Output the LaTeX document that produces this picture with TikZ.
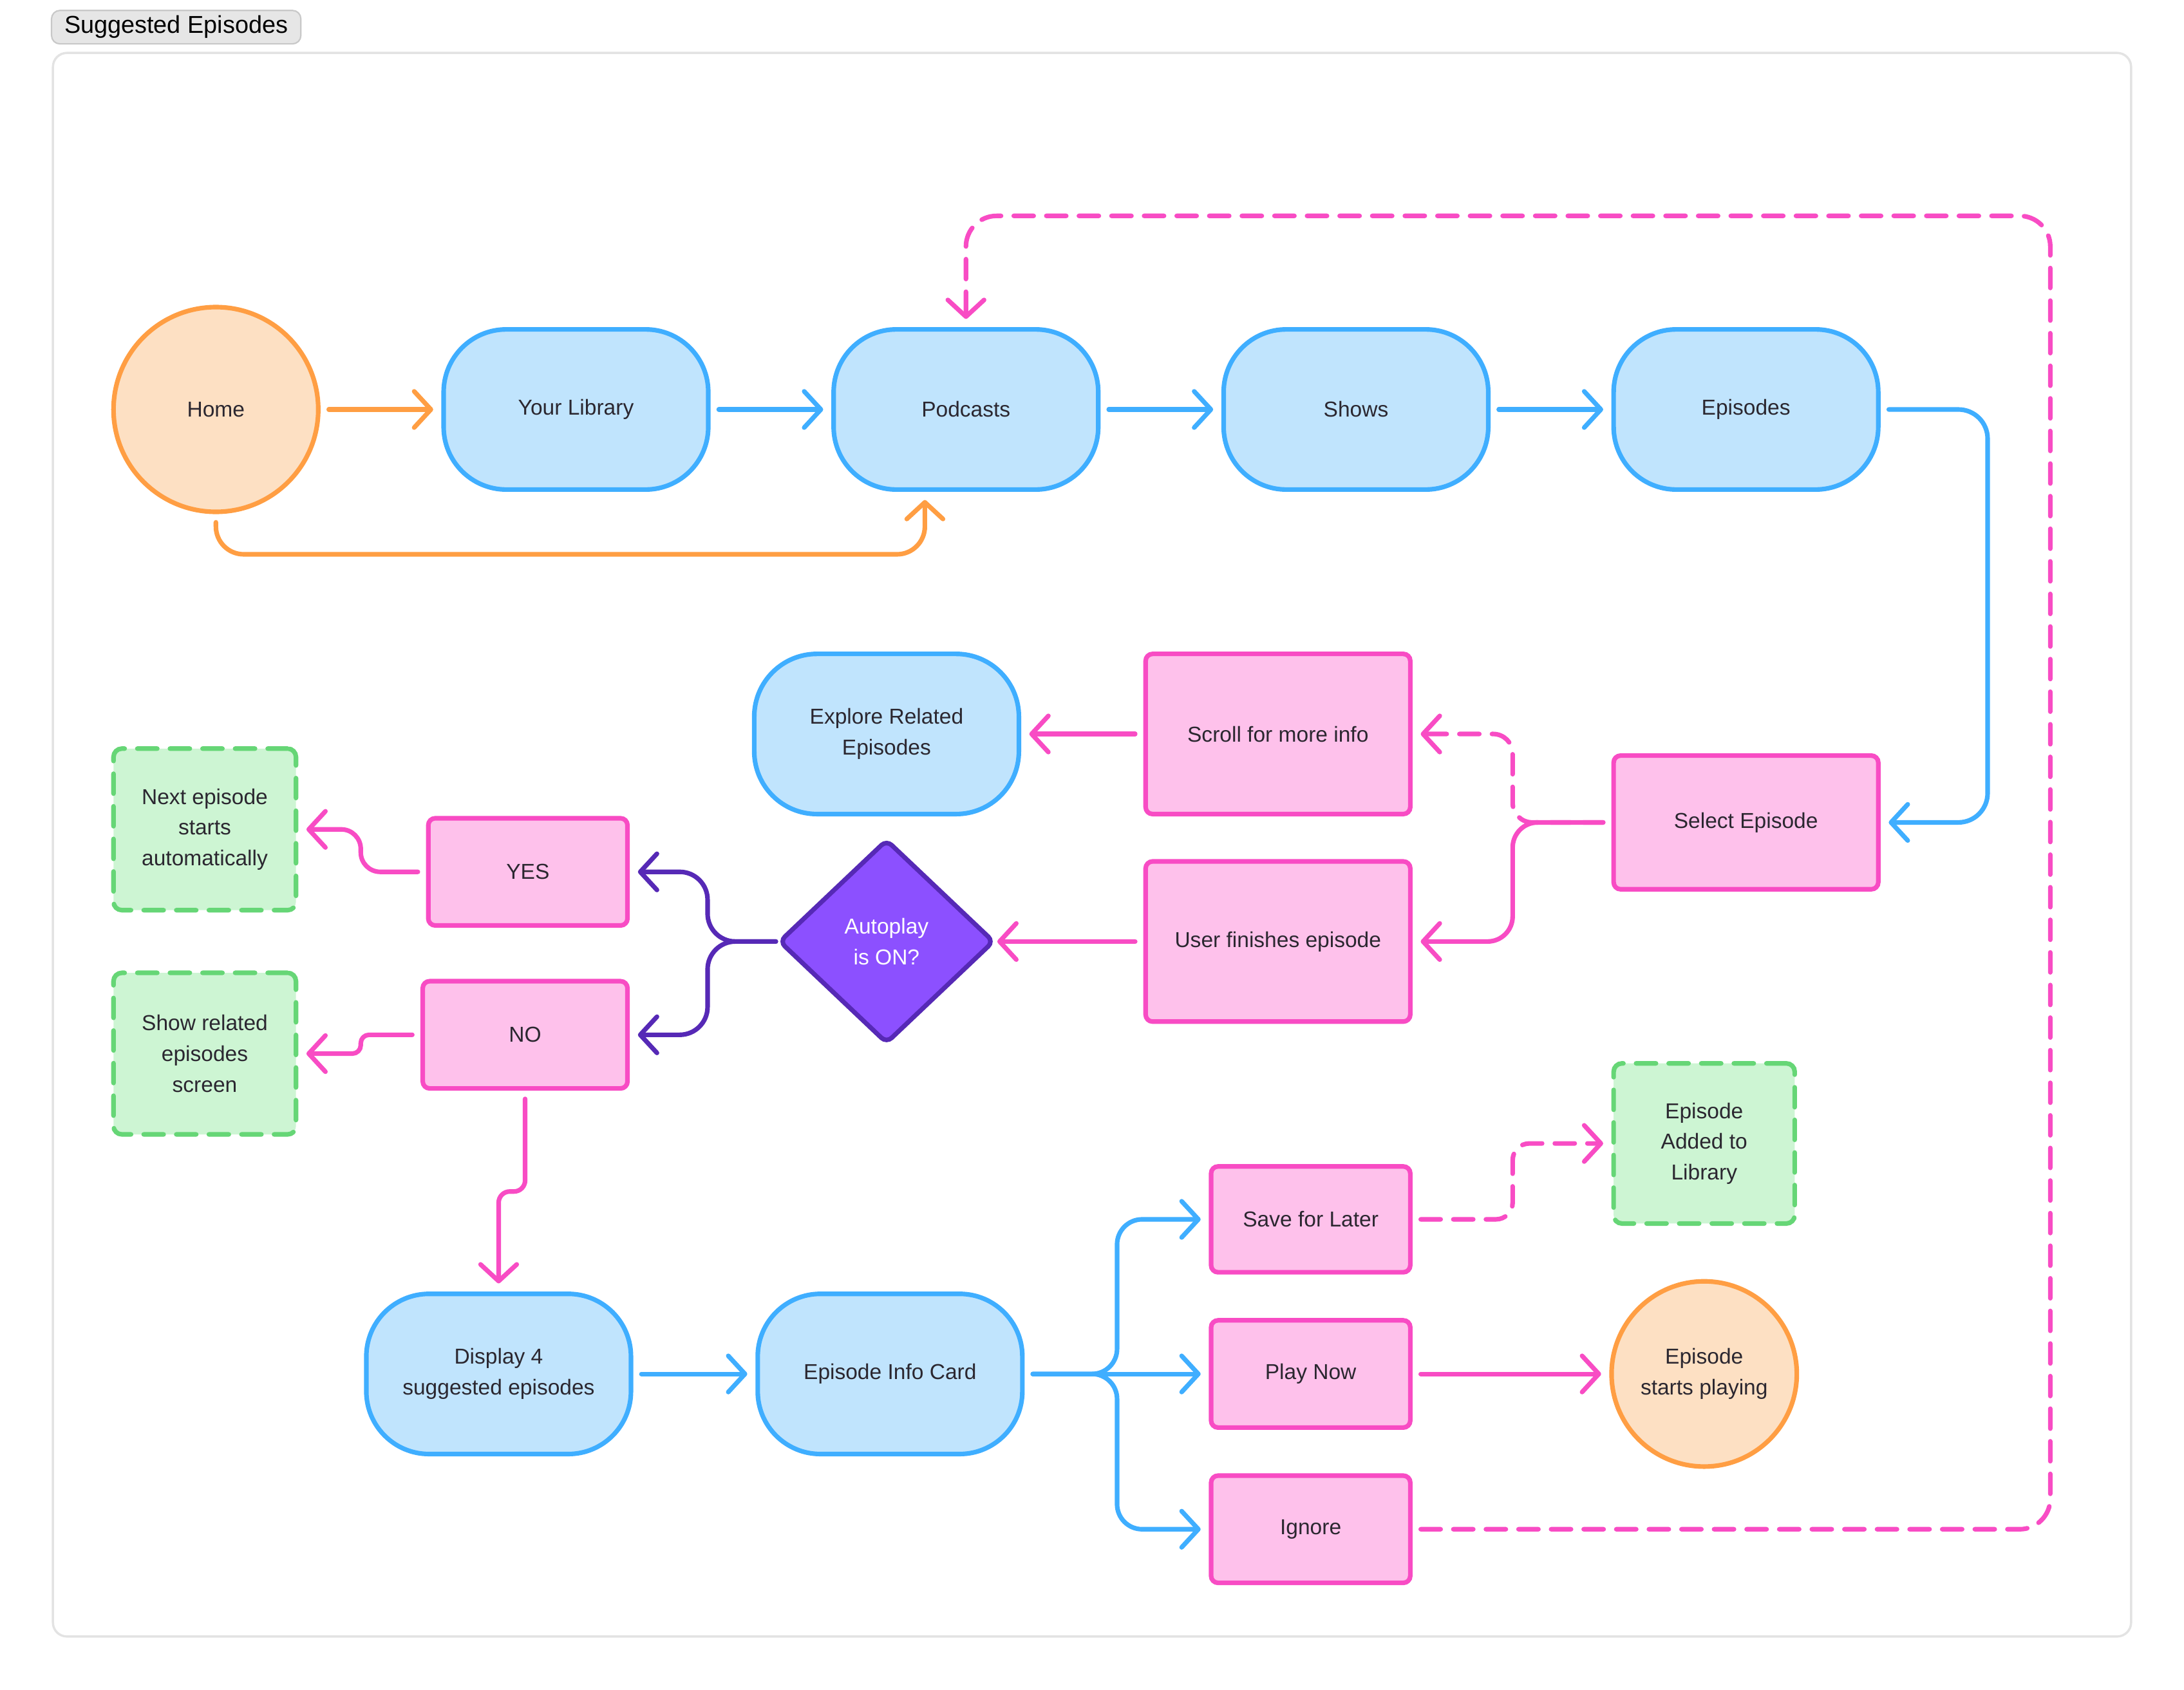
\documentclass[tikz,border=0pt]{standalone}
\usepackage{fontspec}
\setmainfont{Liberation Sans}
\usetikzlibrary{arrows.meta,shapes.geometric,calc}
\definecolor{fblue}{HTML}{C0E4FD}
\definecolor{bblue}{HTML}{3FAEFF}
\definecolor{fpink}{HTML}{FEC1EB}
\definecolor{bpink}{HTML}{F84CC4}
\definecolor{forange}{HTML}{FDE0C3}
\definecolor{borange}{HTML}{FF9E43}
\definecolor{fgreen}{HTML}{CDF5D3}
\definecolor{bgreen}{HTML}{66D676}
\definecolor{fpurple}{HTML}{8C50FF}
\definecolor{bpurple}{HTML}{5629B6}
\definecolor{txt}{HTML}{2B2730}
\definecolor{framec}{HTML}{E3E3E3}
\definecolor{tagfill}{HTML}{E6E6E6}
\definecolor{tagdraw}{HTML}{C8C8C8}
\newcommand{\nodefont}{\fontsize{15.5}{22}\selectfont}
\tikzset{
  base/.style={line width=3.3pt, align=center, font=\nodefont, text=txt, outer sep=7.5pt, inner sep=0pt},
  bluebox/.style={base, rectangle, draw=bblue, fill=fblue, rounded corners=45pt, minimum width=190pt, minimum height=115pt},
  pinkbox/.style={base, rectangle, draw=bpink, fill=fpink, rounded corners=5pt},
  greenbox/.style={base, rectangle, draw=bgreen, fill=fgreen, rounded corners=6pt, line cap=round, dash pattern=on 14.3pt off 9.1pt},
  orangecirc/.style={base, circle, draw=borange, fill=forange},
  decision/.style={base, diamond, draw=bpurple, fill=fpurple, text=white, rounded corners=5pt, minimum width=155pt, minimum height=147pt, outer sep=2pt},
  tip/.style={-{Straight Barb[length=12pt,width=26pt,round]}},
  conn/.style={tip, line width=3.3pt, line cap=round, line join=round},
  oconn/.style={conn, draw=borange},
  bconn/.style={conn, draw=bblue},
  pconn/.style={conn, draw=bpink},
  dconn/.style={conn, draw=bpink, dash pattern=on 14.3pt off 9.1pt},
  vconn/.style={conn, draw=bpurple},
}
\begin{document}
\begin{tikzpicture}[x=1pt,y=-1pt]
\useasboundingbox (0,0) rectangle (1568,1213);
\fill[white] (0,0) rectangle (1568,1213);
% frame and title
\draw[draw=framec, line width=1.6pt, rounded corners=10pt] (38,38) rectangle (1530,1175);
\node[draw=tagdraw, fill=tagfill, line width=1pt, rounded corners=6pt, minimum width=179pt, minimum height=24pt, inner sep=0pt, font=\fontsize{17.5}{20}\selectfont, text=black] (ttl) at (126.5,19.5) {Suggested Episodes};

% top row
\node[orangecirc, minimum size=147pt] (home) at (155,294) {Home};
\node[bluebox] (lib) at (413.5,294) {Your Library};
\node[bluebox] (pod) at (693.5,294) {Podcasts};
\node[bluebox] (shows) at (973.5,294) {Shows};
\node[bluebox] (eps) at (1253.5,294) {Episodes};

% middle
\node[bluebox] (explore) at (636.5,527) {Explore Related\\Episodes};
\node[pinkbox, minimum width=190pt, minimum height=115pt] (scroll) at (917.5,527) {Scroll for more info};
\node[pinkbox, minimum width=190pt, minimum height=96pt] (select) at (1253.5,590.5) {Select Episode};
\node[pinkbox, minimum width=190pt, minimum height=115pt] (finish) at (917.5,676) {User finishes episode};
\node[decision] (auto) at (636.5,676) {Autoplay\\is ON?};
\node[pinkbox, minimum width=143pt, minimum height=77pt] (yes) at (379,626) {YES};
\node[pinkbox, minimum width=147pt, minimum height=77pt] (no) at (377,743) {NO};
\node[greenbox, minimum width=131pt, minimum height=116pt] (next) at (147,595.5) {Next episode\\starts\\automatically};
\node[greenbox, minimum width=131pt, minimum height=116pt] (showrel) at (147,756.5) {Show related\\episodes\\screen};

% bottom
\node[bluebox] (disp) at (358,986.5) {Display 4\\suggested episodes};
\node[bluebox] (card) at (639,986.5) {Episode Info Card};
\node[pinkbox, minimum width=143pt, minimum height=76pt] (save) at (941,875.5) {Save for Later};
\node[pinkbox, minimum width=143pt, minimum height=77pt] (play) at (941,986.5) {Play Now};
\node[pinkbox, minimum width=143pt, minimum height=77pt] (ignore) at (941,1098) {Ignore};
\node[greenbox, minimum width=130pt, minimum height=115pt] (added) at (1223.5,821) {Episode\\Added to\\Library};
\node[orangecirc, minimum size=133pt] (starts) at (1223.5,986.5) {Episode\\starts playing};

% bend points
\coordinate (jsel) at ($(select.east)+(71,0)$);
\coordinate (jscroll) at ($(scroll.east)+(66,0)$);
\coordinate (jfin) at ($(finish.east)+(66,0)$);
\coordinate (jyes) at ($(yes.east)+(50,0)$);
\coordinate (jno) at ($(no.east)+(50,0)$);
\coordinate (jnext) at ($(next.east)+(39,0)$);
\coordinate (jshow) at ($(showrel.east)+(39,0)$);
\coordinate (jdisp) at ($(disp.north)+(0,-66)$);
\coordinate (jsave) at ($(save.west)+(-60,0)$);
\coordinate (jign) at ($(ignore.west)+(-60,0)$);
\coordinate (jadd) at ($(added.west)+(-65,0)$);

% connectors
\draw[oconn] (home.east) -- (lib.west);
\draw[oconn, rounded corners=20pt] (home.south) -- ++(0,23) -| ([xshift=-29.5pt]pod.south);
\draw[bconn] (lib.east) -- (pod.west);
\draw[bconn] (pod.east) -- (shows.west);
\draw[bconn] (shows.east) -- (eps.west);
\draw[bconn, rounded corners=21pt] (eps.east) -| (jsel) -- (select.east);

\draw[dconn, rounded corners=14pt] (select.west) -| (jscroll) -- (scroll.east);
\draw[pconn, rounded corners=18pt] (select.west) -| (jfin) -- (finish.east);
\draw[pconn] (scroll.west) -- (explore.east);
\draw[pconn] (finish.west) -- (auto.east);

\draw[vconn, rounded corners=20pt] (auto.west) -| (jyes) -- (yes.east);
\draw[vconn, rounded corners=20pt] (auto.west) -| (jno) -- (no.east);

\draw[pconn, rounded corners=14pt] (yes.west) -| (jnext) -- (next.east);
\draw[pconn, rounded corners=6pt] (no.west) -| (jshow) -- (showrel.east);
\draw[pconn, rounded corners=8pt] (no.south) |- (jdisp) -- (disp.north);

\draw[bconn] (disp.east) -- (card.west);
\draw[bconn, rounded corners=18pt] (card.east) -| (jsave) -- (save.west);
\draw[bconn] (card.east) -- (play.west);
\draw[bconn, rounded corners=18pt] (card.east) -| (jign) -- (ignore.west);

\draw[dconn, rounded corners=12pt] (save.east) -| (jadd) -- (added.west);
\draw[pconn] (play.east) -- (starts.west);
\draw[dconn, rounded corners=22pt] (ignore.east) -| (1472,155) -| (pod.north);
\end{tikzpicture}
\end{document}
